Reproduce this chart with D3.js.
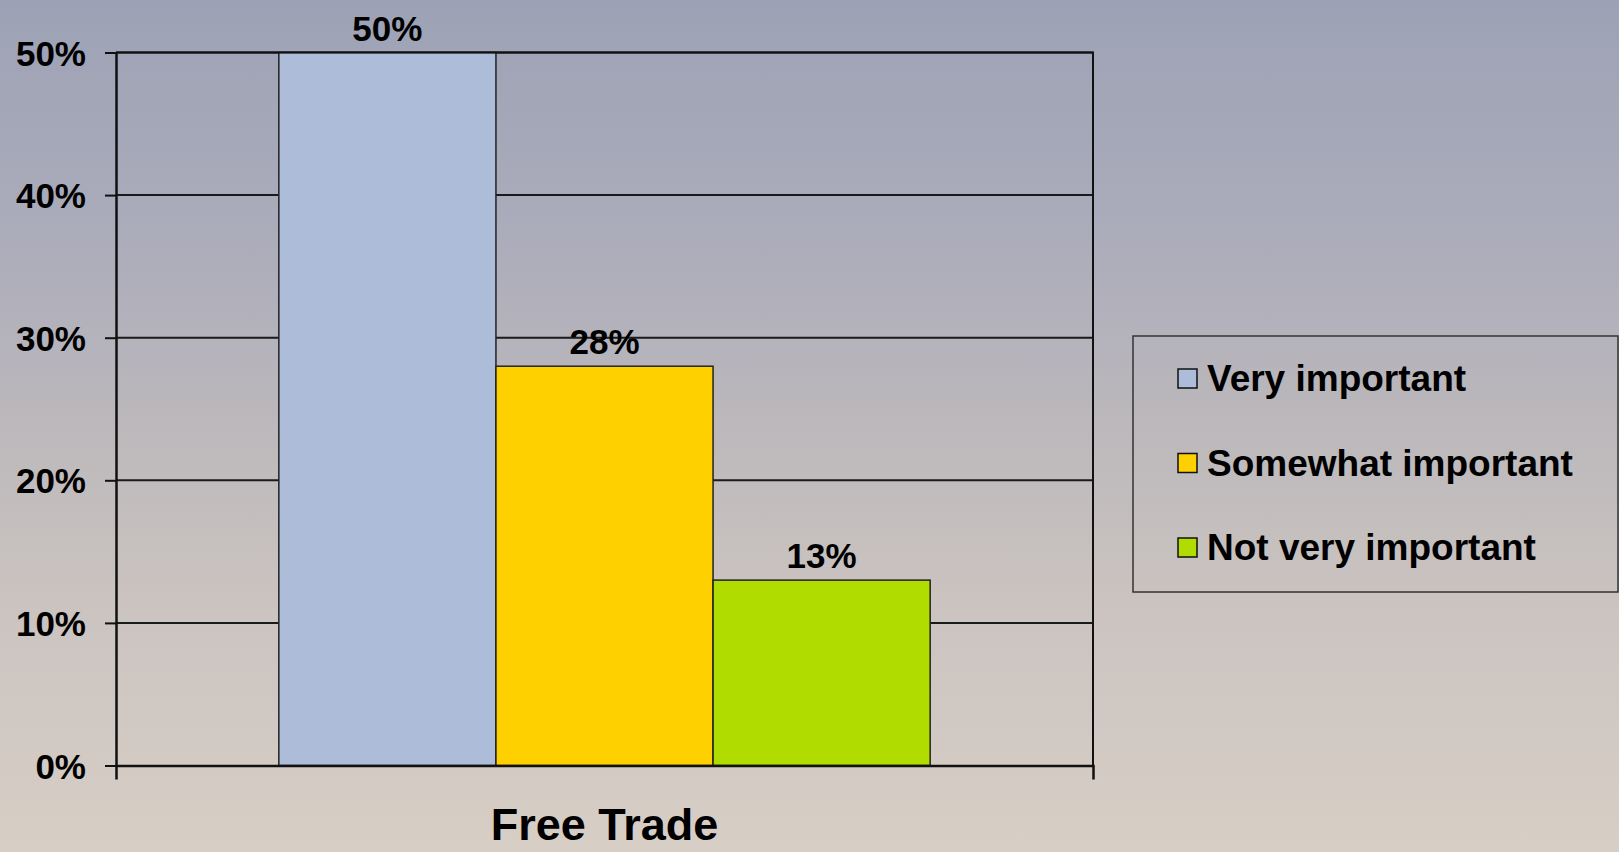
<!DOCTYPE html>
<html>
<head>
<meta charset="utf-8">
<script src="https://cdn.jsdelivr.net/npm/d3@7"></script>
<style>
  html, body { margin: 0; padding: 0; background: #d7cec5; }
  svg { display: block; }
  text { font-family: "Liberation Sans", Arial, sans-serif; font-weight: bold; fill: #000; }
</style>
</head>
<body>
<svg id="chart" width="1619" height="852"></svg>
<script>
// Survey: importance of free trade
const categories = ["Free Trade"];
const seriesNames = ["Very important", "Somewhat important", "Not very important"];
const seriesValues = [0.50, 0.28, 0.13];
const seriesColors = ["#adbcd8", "#ffd000", "#b0dc00"];
const yTicks = [0, 0.1, 0.2, 0.3, 0.4, 0.5];

const W = 1619, H = 852;
const plot = { left: 116, right: 1093, top: 52.5, bottom: 765.5 };

const svg = d3.select("#chart");

// Background: slate blue at the top fading to warm beige at the bottom
const defs = svg.append("defs");
const grad = defs.append("linearGradient")
  .attr("id", "bg").attr("x1", 0).attr("y1", 0).attr("x2", 0).attr("y2", 1);
[[0, "#9ca2b5"], [0.3, "#adadbb"], [0.5, "#bcb8bb"], [0.7, "#cac3c0"], [1, "#d7cec5"]]
  .forEach(([o, c]) => grad.append("stop").attr("offset", o).attr("stop-color", c));
svg.append("rect").attr("width", W).attr("height", H).attr("fill", "url(#bg)");

// Scales
const y = d3.scaleLinear().domain([0, 0.5]).range([plot.bottom, plot.top]);
const x0 = d3.scaleBand().domain(categories).range([plot.left, plot.right])
  .paddingInner(0).paddingOuter(0.25);
const x1 = d3.scaleBand().domain(seriesNames).range([0, x0.bandwidth()]).padding(0);

// Horizontal gridlines
svg.append("g")
  .selectAll("line")
  .data(yTicks.filter(t => t > 0))
  .join("line")
  .attr("x1", plot.left).attr("x2", plot.right)
  .attr("y1", d => y(d)).attr("y2", d => y(d))
  .attr("stroke", "#1a1a1a").attr("stroke-width", 2);

// Bars
const groups = svg.append("g")
  .selectAll("g")
  .data(categories)
  .join("g")
  .attr("transform", d => `translate(${x0(d)},0)`);

const rows = seriesNames.map((name, i) => ({ name, value: seriesValues[i], color: seriesColors[i] }));

groups.selectAll("rect")
  .data(rows)
  .join("rect")
  .attr("x", d => x1(d.name))
  .attr("y", d => y(d.value))
  .attr("width", x1.bandwidth())
  .attr("height", d => y(0) - y(d.value))
  .attr("fill", d => d.color)
  .attr("stroke", "#222")
  .attr("stroke-width", 1.5);

// Value labels
groups.selectAll("text.value")
  .data(rows)
  .join("text")
  .attr("class", "value")
  .attr("x", d => x1(d.name) + x1.bandwidth() / 2)
  .attr("y", d => y(d.value) - 12)
  .attr("text-anchor", "middle")
  .attr("font-size", 35)
  .text(d => d3.format(".0%")(d.value));

// Plot frame (top and right edges)
svg.append("path")
  .attr("d", `M${plot.left},${plot.top}H${plot.right}V${plot.bottom}`)
  .attr("fill", "none").attr("stroke", "#111").attr("stroke-width", 2);

// Y axis
const yAxis = svg.append("g")
  .attr("transform", `translate(${plot.left},0)`)
  .call(d3.axisLeft(y).tickValues(yTicks).tickFormat(d3.format(".0%"))
    .tickSize(11).tickSizeOuter(0).tickPadding(19));
yAxis.select(".domain").attr("stroke", "#111").attr("stroke-width", 2.5);
yAxis.selectAll(".tick line").attr("stroke", "#111").attr("stroke-width", 2);
yAxis.selectAll(".tick text")
  .attr("font-size", 35).attr("font-family", "Liberation Sans, Arial, sans-serif")
  .attr("font-weight", "bold").attr("fill", "#000").attr("dy", "0.36em");

// X axis
const xAxis = svg.append("g")
  .attr("transform", `translate(0,${plot.bottom})`)
  .call(d3.axisBottom(x0).tickSize(0).tickSizeOuter(14).tickPadding(43));
xAxis.select(".domain").attr("stroke", "#111").attr("stroke-width", 2.5);
xAxis.selectAll(".tick text")
  .attr("font-size", 45).attr("font-family", "Liberation Sans, Arial, sans-serif")
  .attr("font-weight", "bold").attr("fill", "#000").attr("dy", "0.71em");

// Legend
const legend = svg.append("g").attr("transform", "translate(1133,336)");
legend.append("rect")
  .attr("width", 485).attr("height", 256)
  .attr("fill", "none").attr("stroke", "#333").attr("stroke-width", 1.5);
const item = legend.selectAll("g.item")
  .data(rows)
  .join("g")
  .attr("class", "item")
  .attr("transform", (d, i) => `translate(45,${33 + i * 84.5})`);
item.append("rect")
  .attr("width", 19).attr("height", 19)
  .attr("fill", d => d.color).attr("stroke", "#111").attr("stroke-width", 1.5);
item.append("text")
  .attr("x", 29).attr("y", 22)
  .attr("font-size", 37)
  .text(d => d.name);
</script>
</body>
</html>
